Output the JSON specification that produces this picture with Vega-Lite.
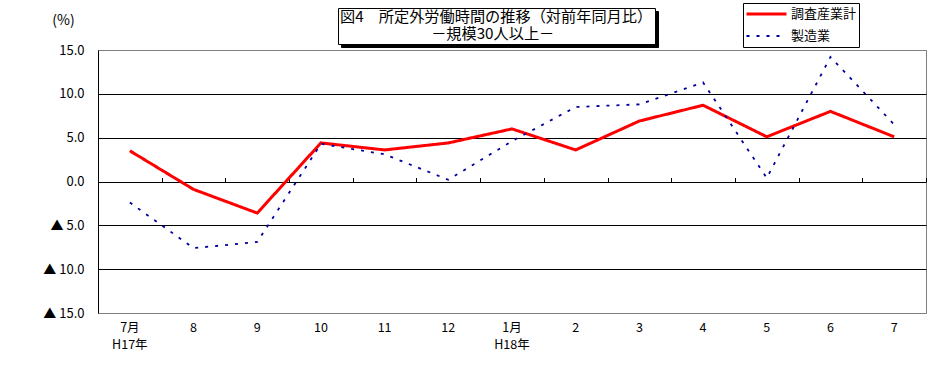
{
  "$schema": "https://vega.github.io/schema/vega-lite/v6.json",
  "width": 828,
  "height": 263,
  "autosize": {"type": "none"},
  "padding": {"left": 98, "top": 50, "right": 8, "bottom": 70},
  "background": "white",
  "config": {
    "font": "Noto Sans CJK JP",
    "view": {"stroke": "#808080", "strokeWidth": 1},
    "axis": {"labelColor": "black", "labelFont": "Noto Sans CJK JP"}
  },
  "data": {
    "values": [
      {"month": "7月 H17年", "series": "調査産業計", "value": 3.5},
      {"month": "8", "series": "調査産業計", "value": -0.9},
      {"month": "9", "series": "調査産業計", "value": -3.6},
      {"month": "10", "series": "調査産業計", "value": 4.4},
      {"month": "11", "series": "調査産業計", "value": 3.6},
      {"month": "12", "series": "調査産業計", "value": 4.4},
      {"month": "1月 H18年", "series": "調査産業計", "value": 6.0},
      {"month": "2", "series": "調査産業計", "value": 3.6},
      {"month": "3", "series": "調査産業計", "value": 6.9},
      {"month": "4", "series": "調査産業計", "value": 8.7},
      {"month": "5", "series": "調査産業計", "value": 5.1},
      {"month": "6", "series": "調査産業計", "value": 8.0},
      {"month": "7", "series": "調査産業計", "value": 5.1},
      {"month": "7月 H17年", "series": "製造業", "value": -2.4},
      {"month": "8", "series": "製造業", "value": -7.6},
      {"month": "9", "series": "製造業", "value": -6.9},
      {"month": "10", "series": "製造業", "value": 4.3},
      {"month": "11", "series": "製造業", "value": 3.1},
      {"month": "12", "series": "製造業", "value": 0.2},
      {"month": "1月 H18年", "series": "製造業", "value": 4.6},
      {"month": "2", "series": "製造業", "value": 8.5},
      {"month": "3", "series": "製造業", "value": 8.8},
      {"month": "4", "series": "製造業", "value": 11.3},
      {"month": "5", "series": "製造業", "value": 0.4},
      {"month": "6", "series": "製造業", "value": 14.2},
      {"month": "7", "series": "製造業", "value": 6.5}
    ]
  },
  "resolve": {"axis": {"x": "independent"}},
  "layer": [
    {
      "mark": {"type": "line", "strokeCap": "butt", "strokeJoin": "miter"},
      "encoding": {
        "x": {
          "field": "month", "type": "ordinal", "sort": null, "bandPosition": 0.5,
          "scale": {"type": "band", "paddingInner": 0, "paddingOuter": 0},
          "axis": {"orient": "bottom", "title": null, "domain": false, "ticks": false, "grid": false, "labelAngle": 0,
                   "labelExpr": "split(datum.value, ' ')", "labelPadding": 8, "labelFontSize": 12.5, "labelLineHeight": 17, "labelBaseline": "top"}
        },
        "y": {
          "field": "value", "type": "quantitative",
          "scale": {"domain": [-15, 15], "nice": false, "zero": false},
          "axis": {
            "values": [-15, -10, -5, 0, 5, 10, 15],
            "labelExpr": "datum.value < 0 ? '▲ ' + format(-datum.value, '.1f') : format(datum.value, '.1f')",
            "ticks": false, "domainColor": "black", "domainWidth": 1,
            "grid": true,
            "gridColor": {"condition": {"test": "abs(datum.value) == 15", "value": "#808080"}, "value": "black"},
            "gridWidth": 1, "gridOpacity": 1,
            "labelFontSize": 13, "labelPadding": 14,
            "title": "(%)", "titleAngle": 0, "titleX": -35, "titleY": -30, "titleAlign": "center", "titleBaseline": "middle",
            "titleFontWeight": "normal", "titleFontSize": 14, "titleColor": "black"
          }
        },
        "color": {
          "field": "series", "type": "nominal",
          "scale": {"domain": ["調査産業計", "製造業"], "range": ["#ff0000", "#00009c"]},
          "legend": {"orient": "none", "legendX": 645, "legendY": -47, "title": null, "strokeColor": "black", "fillColor": "white",
                     "padding": 2, "symbolType": "stroke", "symbolSize": 1600, "labelFontSize": 13, "labelColor": "black",
                     "labelOffset": 3, "clipHeight": 18, "rowPadding": 4}
        },
        "strokeDash": {
          "field": "series", "type": "nominal",
          "scale": {"domain": ["調査産業計", "製造業"], "range": [[1, 0], [3, 7]]},
          "legend": {"orient": "none", "legendX": 645, "legendY": -47, "title": null}
        },
        "strokeWidth": {
          "field": "series", "type": "nominal",
          "scale": {"domain": ["調査産業計", "製造業"], "range": [3, 1.8]},
          "legend": {"orient": "none", "legendX": 645, "legendY": -47, "title": null}
        }
      }
    },
    {
      "mark": {"type": "point", "opacity": 0},
      "encoding": {
        "x": {
          "field": "month", "type": "ordinal", "sort": null, "bandPosition": 0.5,
          "scale": {"type": "band", "paddingInner": 0, "paddingOuter": 0},
          "axis": {"orient": "top", "offset": -131.5, "title": null, "domain": false, "labels": false, "ticks": true,
                   "tickBand": "extent", "tickSize": 4, "tickColor": "black", "tickWidth": 1, "grid": false}
        },
        "y": {"field": "value", "type": "quantitative"},
        "shape": {
          "field": "month", "type": "nominal",
          "legend": {"orient": "none", "legendX": 240, "legendY": -42, "values": [],
                     "title": ["図4　所定外労働時間の推移（対前年同月比）", "\u200b　　　　　　－規模30人以上－"],
                     "titleFontSize": 15.2, "titleLineHeight": 16.5, "titleFontWeight": "normal", "titleColor": "black",
                     "titleAnchor": "start", "titleAlign": "left", "titleLimit": 600, "titlePadding": 0,
                     "strokeColor": "black", "fillColor": "white", "padding": 2}
        },
        "size": {
          "field": "value", "type": "quantitative",
          "legend": {"orient": "none", "legendX": 243, "legendY": -39, "values": [],
                     "title": ["図4　所定外労働時間の推移（対前年同月比）", "\u200b　　　　　　－規模30人以上－"],
                     "titleFontSize": 15.2, "titleLineHeight": 16.5, "titleFontWeight": "normal", "titleColor": "black",
                     "titleAnchor": "start", "titleAlign": "left", "titleLimit": 600, "titlePadding": 0,
                     "strokeColor": "black", "fillColor": "black", "padding": 2}
        }
      }
    }
  ]
}
